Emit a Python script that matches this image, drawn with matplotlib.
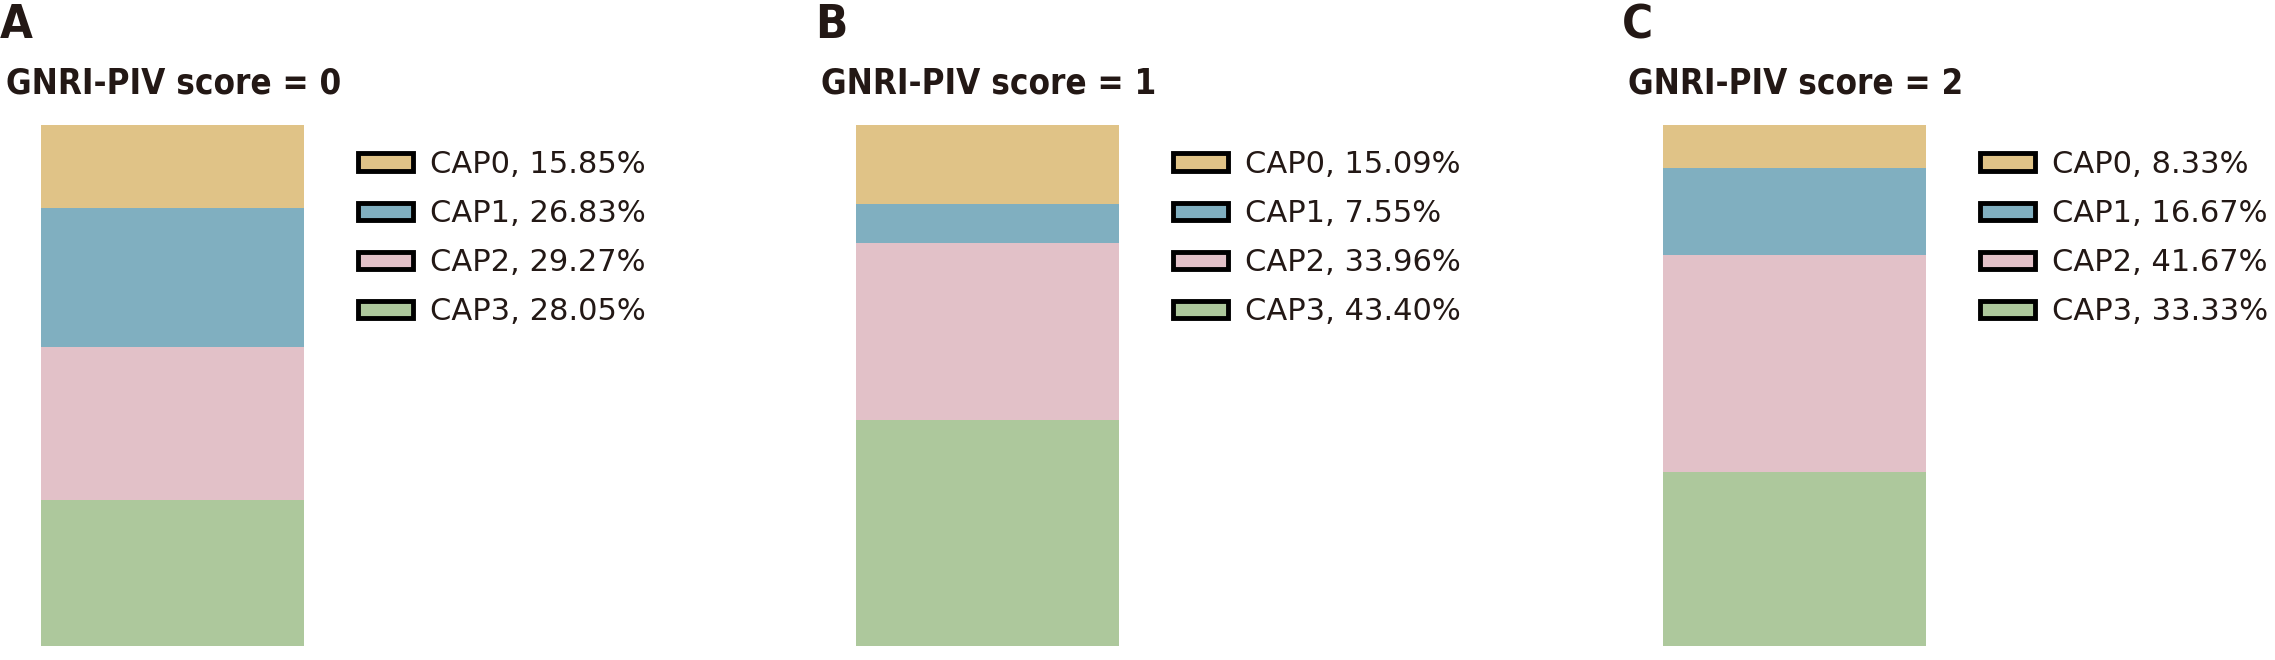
import matplotlib.pyplot as plt
from matplotlib.patches import Patch

plt.rcParams['font.family'] = ['DejaVu Sans']

panels = ['A', 'B', 'C']
titles = ['GNRI-PIV score = 0', 'GNRI-PIV score = 1', 'GNRI-PIV score = 2']
caps = ['CAP0', 'CAP1', 'CAP2', 'CAP3']
colors = ['#E0C387', '#80AFC0', '#E2C1C8', '#ADC89C']
cap0 = [15.85, 15.09, 8.33]
cap1 = [26.83, 7.55, 16.67]
cap2 = [29.27, 33.96, 41.67]
cap3 = [28.05, 43.40, 33.33]

W, H = 2275, 660
fig = plt.figure(figsize=(W / 100, H / 100), dpi=100)

offsets = [0, 815, 1622]
for i in range(3):
    x0 = offsets[i]
    vals = [cap0[i], cap1[i], cap2[i], cap3[i]]
    ax = fig.add_axes([(x0 + 41) / W, 14 / H, 263 / W, 521 / H])
    bottom = 0
    # stack from the bottom: CAP3 first
    for v, c in zip(vals[::-1], colors[::-1]):
        ax.bar(0, v, width=1, bottom=bottom, color=c, edgecolor='none')
        bottom += v
    ax.set_xlim(-0.5, 0.5)
    ax.set_ylim(0, bottom)
    ax.axis('off')

    fig.text((x0 + 0) / W, 1 - 26 / H, panels[i], fontsize=34, fontweight='bold',
             fontstretch='condensed', color='#231815', va='center', ha='left')
    fig.text((x0 + 6) / W, 1 - 83 / H, titles[i], fontsize=25, fontweight='bold',
             fontstretch='condensed', color='#231815', va='center', ha='left')

    handles = [Patch(facecolor=c, edgecolor='black', linewidth=3.5) for c in colors]
    labels = [f'{n}, {v:.2f}%' for n, v in zip(caps, vals)]
    leg = fig.legend(handles, labels, loc='upper left',
                     bbox_to_anchor=((x0 + 358) / W, 1 - 150 / H),
                     frameon=False, fontsize=22, handlelength=1.8, handleheight=0.5,
                     handletextpad=0.55, labelspacing=0.66, borderaxespad=0,
                     borderpad=0)
    for t in leg.get_texts():
        t.set_color('#231815')

fig.savefig('out.png', dpi=100)
